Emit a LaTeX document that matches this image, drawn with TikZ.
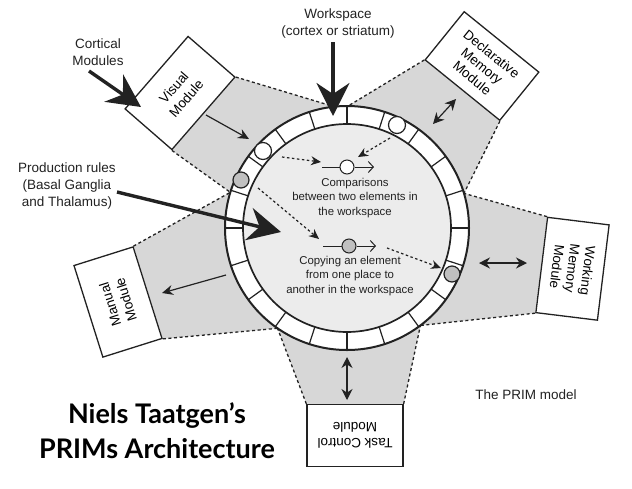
\documentclass[tikz,border=0pt]{standalone}
\usepackage{fontspec}
\setmainfont{Liberation Sans}
\newfontfamily\titlefont{Lato}
\usetikzlibrary{arrows.meta,calc}
\pgfdeclarelayer{background}
\pgfdeclarelayer{canvas}
\pgfsetlayers{canvas,background,main}
\definecolor{regiongray}{RGB}{215,215,215}
\definecolor{diskgray}{RGB}{236,236,236}
\definecolor{dotgray}{RGB}{192,192,192}
\definecolor{ink}{RGB}{34,34,34}
\begin{document}
\begin{tikzpicture}[x=1pt,y=1pt,
  modbox/.style={draw=ink, line width=1.3pt, fill=white, minimum width=96pt, minimum height=62pt, inner sep=0pt, align=center, font=\fontsize{13.5}{15.5}\selectfont},
  modboxtwo/.style={modbox, font=\fontsize{13.5}{16.5}\selectfont},
  border/.style={draw=ink, line width=1.3pt, dash pattern=on 3pt off 2.6pt},
  lbl/.style={align=center, inner sep=0pt, text=ink, font=\fontsize{13.5}{17}\selectfont},
  intext/.style={align=center, inner sep=0pt, text=ink, font=\fontsize{11.4}{14.3}\selectfont},
  cell/.style={draw=ink, line width=1.2pt},
  whitedot/.style={circle, draw=ink, line width=1.2pt, fill=white, minimum size=17pt, inner sep=0pt},
  graydot/.style={circle, draw=ink, line width=1.2pt, fill=dotgray, minimum size=16pt, inner sep=0pt},
  smallarrow/.style={draw=ink, line width=1.2pt, -{Stealth[length=11pt,width=10pt]}},
  dblarrow/.style={draw=ink, line width=1.2pt, {Stealth[length=11pt,width=11pt]}-{Stealth[length=11pt,width=11pt]}},
  bigarrow/.style={draw=ink, line width=3.4pt, -{Stealth[length=33pt,width=33pt,inset=11pt]}},
  dotarrow/.style={draw=ink, line width=1.2pt, dash pattern=on 2.5pt off 2.5pt, -{Stealth[length=10pt,width=9pt]}},
  symarrow/.style={draw=ink, line width=1pt, -{Straight Barb[length=5pt,width=11pt]}},
  symwhite/.style={circle, draw=ink, line width=1pt, fill=white, minimum size=14pt, inner sep=0pt},
  symgray/.style={circle, draw=ink, line width=1pt, fill=dotgray, minimum size=14pt, inner sep=0pt}
]
\useasboundingbox (0,0) rectangle (632,-488);
\begin{pgfonlayer}{canvas}
\fill[white] (0,0) rectangle (632,-488);
\end{pgfonlayer}

\coordinate (C) at (347,-228);

% modules
\node[modboxtwo, rotate=49] (vis) at (180,-93) {Visual\\Module};
\node[modbox, rotate=-39] (dec) at (482,-66) {Declarative\\Memory\\Module};
\node[modbox, rotate=-97] (wm) at (572.5,-268.75) {Working\\Memory\\Module};
\node[modboxtwo, rotate=180] (task) at (355,-435.5) {Task Control\\Module};
\node[modboxtwo, rotate=107.5] (man) at (118,-302) {Manual\\Module};

% gray regions and dotted borders
\begin{pgfonlayer}{background}
\fill[regiongray] (vis.south east) -- ($(C)+(96:122)$) arc[start angle=96, end angle=163, radius=122] -- (vis.south west) -- cycle;
\fill[regiongray] (dec.south east) -- ($(C)+(16.5:122)$) arc[start angle=16.5, end angle=89.5, radius=122] -- (dec.south west) -- cycle;
\fill[regiongray] (wm.south east) -- ($(C)+(-53:122)$) arc[start angle=-53, end angle=16.5, radius=122] -- (wm.south west) -- cycle;
\fill[regiongray] (task.south east) -- ($(C)+(-124.7:122)$) arc[start angle=-124.7, end angle=-53, radius=122] -- (task.south west) -- cycle;
\fill[regiongray] (man.south east) -- ($(C)+(163:122)$) arc[start angle=163, end angle=235.3, radius=122] -- (man.south west) -- cycle;
\draw[border] (vis.south east) -- ($(C)+(96:122)$);
\draw[border] (vis.south west) -- ($(C)+(163:122)$);
\draw[border] (dec.south west) -- ($(C)+(89.5:122)$);
\draw[border] (dec.south east) -- ($(C)+(16.5:122)$);
\draw[border] (wm.south west) -- ($(C)+(16.5:122)$);
\draw[border] (wm.south east) -- ($(C)+(-53:122)$);
\draw[border] (task.south west) -- ($(C)+(-53:122)$);
\draw[border] (task.south east) -- ($(C)+(-124.7:122)$);
\draw[border] (man.south west) -- ($(C)+(-124.7:122)$);
\draw[border] (man.south east) -- ($(C)+(163:122)$);
\end{pgfonlayer}

% workspace ring
\fill[white] (C) circle[radius=122];
\fill[diskgray] (C) circle[radius=104];
\foreach \a in {0,18,...,342} \draw[cell] ($(C)+(\a:104)$) -- ($(C)+(\a:122)$);
\draw[ink, line width=2pt] (C) circle[radius=122];
\draw[ink, line width=1.7pt] (C) circle[radius=104];

\node[whitedot] (w1) at (263,-151) {};
\node[whitedot] (w2) at (397,-125) {};
\node[graydot] (g1) at (241,-180) {};
\node[graydot] (g2) at (452,-274) {};

% symbols inside workspace
\coordinate (cmpA) at (322,-167);
\node[symwhite] (cmpO) at (347,-167) {};
\coordinate (cmpB) at (374,-167);
\draw[ink, line width=1pt] (cmpA) -- (cmpO);
\draw[symarrow] (cmpO) -- (cmpB);
\coordinate (cpA) at (323,-246);
\node[symgray] (cpO) at (349,-246) {};
\coordinate (cpB) at (376,-246);
\draw[ink, line width=1pt] (cpA) -- (cpO);
\draw[symarrow] (cpO) -- (cpB);

\node[intext] (cmptext) at (355,-198) {Comparisons\\between two elements in\\the workspace};
\node[intext] (cptext) at (350,-276) {Copying an element\\from one place to\\another in the workspace};

% dotted arrows
\coordinate (d1a) at (282,-157);
\coordinate (d1b) at (321,-162);
\coordinate (d2a) at (390,-138);
\coordinate (d2b) at (358,-157);
\coordinate (d3a) at (258,-188);
\coordinate (d3b) at (319,-239);
\coordinate (d4a) at (387,-248);
\coordinate (d4b) at (441,-268);
\draw[dotarrow] (d1a) -- (d1b);
\draw[dotarrow] (d2a) -- (d2b);
\draw[dotarrow] (d3a) -- (d3b);
\draw[dotarrow] (d4a) -- (d4b);

% module arrows
\coordinate (va) at (206,-115);
\coordinate (vb) at (249,-139);
\draw[smallarrow] (va) -- (vb);
\coordinate (da) at (433,-124);
\coordinate (db) at (456,-99);
\draw[dblarrow] (da) -- (db);
\coordinate (wa) at (479,-263);
\coordinate (wb) at (527,-263);
\draw[dblarrow] (wa) -- (wb);
\coordinate (ta) at (347,-357);
\coordinate (tb) at (347,-400);
\draw[dblarrow] (ta) -- (tb);
\coordinate (ma) at (226,-275);
\coordinate (mb) at (162,-293);
\draw[smallarrow] (ma) -- (mb);

% labels and big arrows
\node[lbl] (wslbl) at (338,-23.5) {Workspace\\(cortex or striatum)};
\node[lbl] (cortlbl) at (98,-52.5) {Cortical\\Modules};
\node[lbl] (prodlbl) at (67,-186) {Production rules\\(Basal Ganglia\\and Thalamus)};
\node[lbl] (primlbl) at (526,-395) {The PRIM model};

\coordinate (wsA) at (333,-42);
\coordinate (wsB) at (333,-116);
\draw[bigarrow] (wsA) -- (wsB);
\coordinate (coA) at (89,-71);
\coordinate (coB) at (141,-107);
\draw[bigarrow] (coA) -- (coB);
\coordinate (prA) at (117,-192);
\coordinate (prB) at (281,-232);
\draw[bigarrow] (prA) -- (prB);

\node[align=center, inner sep=0pt, text=black, font=\titlefont\bfseries\fontsize{27}{35}\selectfont] (title) at (157,-431) {Niels Taatgen’s\\PRIMs Architecture};
\end{tikzpicture}
\end{document}
